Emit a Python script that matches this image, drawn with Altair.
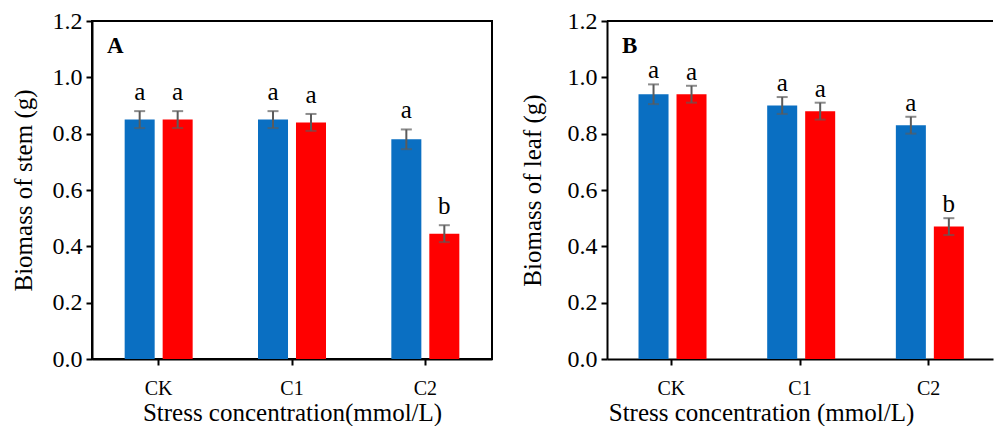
import altair as alt
import pandas as pd

groups = ["CK", "C1", "C2"]
series = ["Treatment 1", "Treatment 2"]
colors = ["#0A6FC2", "#FF0000"]

stem_s1 = [0.85, 0.85, 0.78]
stem_s2 = [0.85, 0.84, 0.445]
stem_err_s1 = [0.03, 0.03, 0.035]
stem_err_s2 = [0.03, 0.03, 0.03]
stem_sig_s1 = ["a", "a", "a"]
stem_sig_s2 = ["a", "a", "b"]

leaf_s1 = [0.94, 0.90, 0.83]
leaf_s2 = [0.94, 0.88, 0.47]
leaf_err_s1 = [0.035, 0.03, 0.03]
leaf_err_s2 = [0.03, 0.03, 0.03]
leaf_sig_s1 = ["a", "a", "a"]
leaf_sig_s2 = ["a", "a", "b"]

y_ticks = [0.0, 0.2, 0.4, 0.6, 0.8, 1.0, 1.2]

SERIF = "Liberation Serif"


def make_df(v1, v2, e1, e2, s1, s2):
    rows = []
    for i, g in enumerate(groups):
        for s, v, e, sig in ((series[0], v1[i], e1[i], s1[i]), (series[1], v2[i], e2[i], s2[i])):
            rows.append({"group": g, "series": s, "value": v, "lo": v - e, "hi": v + e, "sig": sig})
    return pd.DataFrame(rows)


def panel(df, ytitle, xtitle, letter, width, framed, label_dy, ytitle_pad, xtitle_x=None):
    base = alt.Chart(df)
    xaxis_kw = dict(
        title=xtitle,
        labelAngle=0,
        labelFont=SERIF,
        labelFontSize=20,
        labelColor="black",
        labelPadding=13,
        titleFont=SERIF,
        titleFontSize=25,
        titleFontWeight="normal",
        titleColor="black",
        titlePadding=2,
        domainColor="black",
        domainWidth=2,
        tickColor="black",
        tickWidth=2,
        tickSize=6,
    )
    if xtitle_x is not None:
        xaxis_kw["titleX"] = xtitle_x
        xaxis_kw["titleAlign"] = "center"
    x = alt.X(
        "group:N",
        sort=groups,
        scale=alt.Scale(paddingInner=0.49, paddingOuter=0.245),
        axis=alt.Axis(**xaxis_kw),
    )
    xo = alt.XOffset("series:N", sort=series, scale=alt.Scale(paddingInner=0.21, paddingOuter=0))
    y = alt.Y(
        "value:Q",
        scale=alt.Scale(domain=[0, 1.2], nice=False, zero=True),
        axis=alt.Axis(
            title=ytitle,
            values=y_ticks,
            format=".1f",
            grid=False,
            labelFont=SERIF,
            labelFontSize=24,
            labelColor="black",
            labelPadding=4,
            titleFont=SERIF,
            titleFontSize=25,
            titleFontWeight="normal",
            titleColor="black",
            titlePadding=ytitle_pad,
            domainColor="black",
            domainWidth=2,
            tickColor="black",
            tickWidth=2,
            tickSize=6,
        ),
    )
    bars = base.mark_bar().encode(
        x=x,
        xOffset=xo,
        y=y,
        color=alt.Color("series:N", scale=alt.Scale(domain=series, range=colors), legend=None),
    )
    err = base.mark_rule(color="#5b5b5b", strokeWidth=2).encode(x=x, xOffset=xo, y="lo:Q", y2="hi:Q")
    cap_hi = base.mark_tick(color="#5b5b5b", thickness=2, size=11).encode(x=x, xOffset=xo, y="hi:Q")
    cap_lo = base.mark_tick(color="#5b5b5b", thickness=2, size=11, opacity=0.6).encode(x=x, xOffset=xo, y="lo:Q")
    sig = base.mark_text(baseline="alphabetic", dy=-label_dy, font=SERIF, fontSize=25, color="black").encode(
        x=x, xOffset=xo, y="hi:Q", text="sig:N"
    )
    lab = alt.Chart(pd.DataFrame({"t": [letter]})).mark_text(
        align="left", baseline="top", font=SERIF, fontWeight="bold", fontSize=23, color="black"
    ).encode(x=alt.value(15), y=alt.value(14), text="t:N")
    layers = [bars, err, cap_hi, cap_lo, sig, lab]
    if framed:
        view = alt.ViewBackground(stroke="black", strokeWidth=2)
    else:
        view = alt.ViewBackground(stroke="transparent", strokeWidth=0)
        top = alt.Chart(pd.DataFrame({"t": [letter]})).mark_rule(color="black", strokeWidth=2).encode(
            y=alt.datum(1.2), x=alt.value(0), x2=alt.value(width)
        )
        layers.append(top)
    return alt.layer(*layers).properties(width=width, height=338, view=view)


stem_df = make_df(stem_s1, stem_s2, stem_err_s1, stem_err_s2, stem_sig_s1, stem_sig_s2)
leaf_df = make_df(leaf_s1, leaf_s2, leaf_err_s1, leaf_err_s2, leaf_sig_s1, leaf_sig_s2)

pa = panel(stem_df, "Biomass of stem (g)", "Stress concentration(mmol/L)", "A", 400, True, 11, 16)
pb = panel(leaf_df, "Biomass of leaf (g)", "Stress concentration (mmol/L)", "B", 386, False, 6, 22, 154)

chart = (
    alt.hconcat(pa, pb, spacing=27)
    .properties(padding={"left": 10, "top": 8, "right": 0, "bottom": 0}, background="white")
    .resolve_scale(y="independent", x="independent", color="shared")
)

chart.save("out.html", embed_options={"renderer": "svg", "actions": False})
